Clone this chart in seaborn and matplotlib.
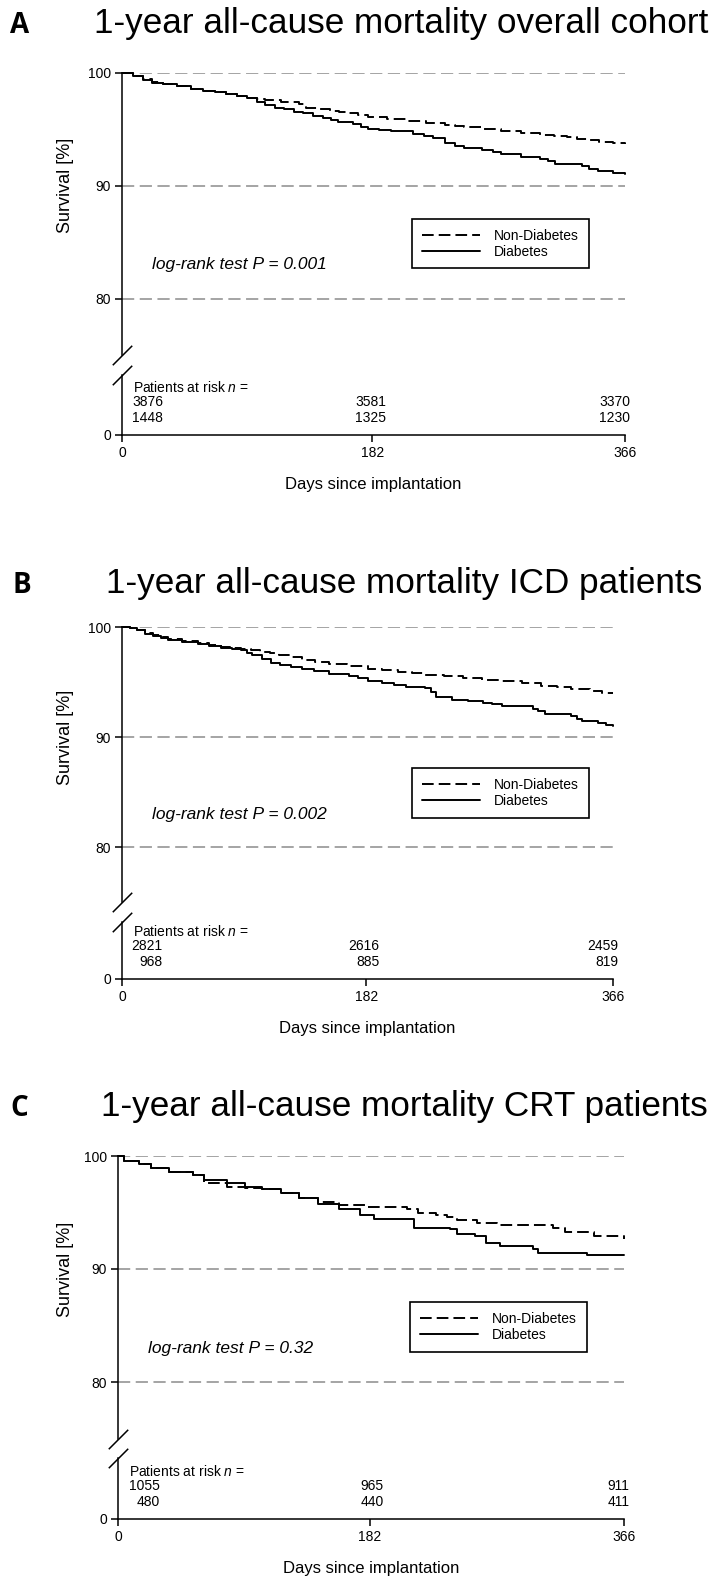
import numpy as np
import pandas as pd
import matplotlib
matplotlib.use("Agg")
import matplotlib.pyplot as plt
from matplotlib.lines import Line2D
import seaborn as sns

# ---------------- data ----------------
titles = ["1-year all-cause mortality overall cohort",
          "1-year all-cause mortality ICD patients",
          "1-year all-cause mortality CRT patients"]
letters = ["A", "B", "C"]
p_values = ["0.001", "0.002", "0.32"]
groups = ["Non-Diabetes", "Diabetes"]
x_ticks = [0, 182, 366]

# Panel A
a_nd_days = [0, 8, 15, 22, 30, 40, 50, 59, 68, 76, 84, 91, 98, 104, 116, 129, 134, 143, 151, 158, 165, 172,
             179, 193, 207, 221, 235, 242, 249, 262, 276, 290, 304, 314, 324, 331, 338, 347, 357, 366]
a_nd_surv = [100, 99.7, 99.4, 99.2, 99.0, 98.8, 98.6, 98.4, 98.25, 98.1, 97.95, 97.8, 97.7, 97.6, 97.4, 97.2,
             96.85, 96.75, 96.6, 96.5, 96.4, 96.25, 96.1, 95.9, 95.7, 95.55, 95.4, 95.3, 95.2, 95.0, 94.8, 94.65,
             94.5, 94.4, 94.3, 94.15, 94.0, 93.85, 93.75, 93.65]
a_d_days = [0, 8, 15, 22, 30, 40, 50, 59, 68, 76, 84, 91, 98, 104, 111, 118, 125, 132, 139, 146, 152, 157, 168,
            174, 179, 187, 196, 212, 220, 226, 235, 242, 249, 262, 270, 276, 290, 304, 310, 315, 335, 340, 346,
            357, 366]
a_d_surv = [100, 99.7, 99.35, 99.1, 99.0, 98.8, 98.6, 98.4, 98.25, 98.1, 97.95, 97.8, 97.4, 97.1, 96.9, 96.75,
            96.55, 96.4, 96.2, 96.0, 95.8, 95.6, 95.45, 95.2, 95.0, 94.9, 94.8, 94.6, 94.4, 94.2, 93.75, 93.5,
            93.3, 93.15, 92.95, 92.8, 92.5, 92.4, 92.15, 91.9, 91.7, 91.5, 91.3, 91.15, 91.0]

# Panel B
b_nd_days = [0, 6, 11, 17, 23, 29, 34, 45, 57, 65, 74, 82, 89, 96, 103, 110, 117, 125, 134, 144, 154, 168, 183,
             194, 206, 216, 226, 240, 254, 268, 283, 298, 312, 324, 335, 349, 358, 366]
b_nd_surv = [100, 99.9, 99.8, 99.5, 99.3, 99.1, 98.9, 98.75, 98.55, 98.35, 98.2, 98.1, 98.0, 97.9, 97.8, 97.65,
             97.5, 97.3, 97.0, 96.85, 96.7, 96.45, 96.2, 96.1, 95.97, 95.85, 95.7, 95.55, 95.4, 95.25, 95.1, 94.9,
             94.7, 94.55, 94.4, 94.2, 94.05, 94.0]
b_d_days = [0, 6, 11, 17, 23, 29, 34, 45, 57, 65, 74, 82, 89, 93, 97, 104, 111, 118, 126, 134, 143, 154, 169,
            176, 183, 194, 203, 212, 226, 230, 234, 246, 258, 269, 276, 283, 306, 310, 315, 335, 339, 343, 355,
            361, 366]
b_d_surv = [100, 99.9, 99.75, 99.4, 99.2, 99.0, 98.85, 98.7, 98.5, 98.3, 98.15, 98.05, 97.9, 97.7, 97.5, 97.1,
            96.8, 96.6, 96.4, 96.25, 96.06, 95.75, 95.6, 95.35, 95.15, 94.9, 94.75, 94.6, 94.45, 94.1, 93.7, 93.4,
            93.3, 93.15, 93.0, 92.85, 92.6, 92.35, 92.1, 91.9, 91.7, 91.5, 91.3, 91.15, 91.0]

# Panel C
c_nd_days = [0, 4, 15, 24, 37, 54, 62, 79, 92, 104, 118, 131, 145, 160, 181, 209, 217, 230, 238, 245, 260, 274,
             315, 323, 344, 366]
c_nd_surv = [100, 99.6, 99.3, 98.9, 98.6, 98.3, 97.6, 97.3, 97.15, 97.05, 96.75, 96.25, 95.9, 95.7, 95.45, 95.3,
             95.0, 94.8, 94.6, 94.3, 94.05, 93.85, 93.6, 93.3, 92.95, 92.65]
c_d_days = [0, 4, 15, 24, 37, 54, 62, 79, 92, 104, 118, 131, 145, 160, 175, 185, 214, 240, 245, 258, 266, 276,
            300, 304, 339, 366]
c_d_surv = [100, 99.6, 99.3, 98.9, 98.6, 98.3, 97.9, 97.6, 97.3, 97.05, 96.75, 96.25, 95.75, 95.3, 94.8, 94.4,
            93.6, 93.5, 93.1, 92.9, 92.3, 92.0, 91.8, 91.4, 91.2, 91.2]

# patients at risk at days 0 / 182 / 366
risk_nd = [[3876, 3581, 3370], [2821, 2616, 2459], [1055, 965, 911]]
risk_d = [[1448, 1325, 1230], [968, 885, 819], [480, 440, 411]]

curves = [((a_nd_days, a_nd_surv), (a_d_days, a_d_surv)),
          ((b_nd_days, b_nd_surv), (b_d_days, b_d_surv)),
          ((c_nd_days, c_nd_surv), (c_d_days, c_d_surv))]

# ---------------- style ----------------
sns.set_style("ticks")
plt.rcParams["font.family"] = ["Liberation Sans", "DejaVu Sans"]
plt.rcParams["mathtext.fontset"] = "custom"
plt.rcParams["mathtext.rm"] = "Liberation Sans"
plt.rcParams["mathtext.it"] = "Liberation Sans:italic"
for key in ["text.color", "axes.labelcolor", "xtick.color", "ytick.color", "axes.edgecolor"]:
    plt.rcParams[key] = "black"

W, H = 709, 1580
fig = plt.figure(figsize=(W / 100, H / 100), dpi=100)


def px_axes(left, right, top, bottom):
    return fig.add_axes([left / W, 1 - bottom / H, (right - left) / W, (bottom - top) / H])


# left, right, top, break_top, break_bottom, bottom, title_baseline, letter_x, title_x
layouts = [
    (122, 625, 72.7, 355, 375, 435, 33, 10, 94),
    (122, 613, 627.3, 902.3, 922, 979, 593, 12, 106),
    (118, 624, 1156, 1438.5, 1458, 1519, 1116, 10, 101),
]

SPINE_LW = 1.1
GRID_COLOR = "#8c8c8c"
risk_cols_day = [30, 192, 370]

for i in range(3):
    left, right, top, btop, bbot, bottom, tbase, lx, tx = layouts[i]
    wpx = right - left

    # titles
    fig.text(lx / W, 1 - tbase / H, letters[i], fontsize=20, fontweight="bold",
             family=["Open Sans", "DejaVu Sans"], va="baseline", ha="left")
    fig.text(tx / W, 1 - tbase / H, titles[i], fontsize=25.3, va="baseline", ha="left")

    # ---- upper axis (survival) ----
    ax = px_axes(left, right, top, btop)
    (nd_d, nd_s), (d_d, d_s) = curves[i]
    df = pd.DataFrame({
        "day": list(nd_d) + list(d_d),
        "surv": list(nd_s) + list(d_s),
        "group": [groups[0]] * len(nd_d) + [groups[1]] * len(d_d),
    })
    sns.lineplot(data=df, x="day", y="surv", hue="group", style="group",
                 palette={groups[0]: "black", groups[1]: "black"},
                 dashes={groups[0]: (6, 2.6), groups[1]: ""},
                 drawstyle="steps-post", estimator=None, sort=False,
                 linewidth=1.4, legend=False, ax=ax)
    for ln in ax.lines:
        ln.set_clip_on(False)
    ax.set_xlim(0, 366)
    ax.set_ylim(75, 100)
    ax.set_yticks([80, 90, 100])
    ax.set_yticklabels(["80", "90", "100"])
    ax.set_xticks([])
    ax.set_xlabel("")
    ax.yaxis.grid(True, color=GRID_COLOR, linestyle=(0, (8, 3.6)), linewidth=1.1)
    ax.set_axisbelow(True)
    for s in ["top", "right", "bottom"]:
        ax.spines[s].set_visible(False)
    ax.spines["left"].set_linewidth(SPINE_LW)
    ax.tick_params(axis="y", direction="out", length=5, width=SPINE_LW, labelsize=10, pad=3)
    ax.set_ylabel("Survival [%]", fontsize=13)
    ax.yaxis.set_label_coords((65 - left) / wpx, (90 - 75) / 25)
    ax.yaxis.label.set_va("center")
    ax.plot([0], [0], transform=ax.transAxes, marker=[(-1, -1), (1, 1)], markersize=14,
            linestyle="none", color="k", mec="k", mew=1.1, clip_on=False)

    ax.text(22, 83, f"log-rank test P = {p_values[i]}", fontsize=12.5, fontstyle="italic",
            va="center", ha="left")

    handles = [Line2D([], [], color="black", lw=1.4, dashes=(6, 2.6)),
               Line2D([], [], color="black", lw=1.4)]
    leg = ax.legend(handles, groups, loc="lower left",
                    bbox_to_anchor=((412 - left) / wpx if i != 2 else (410 - left) / wpx, 0.307),
                    borderaxespad=0, frameon=True, fancybox=False, edgecolor="black",
                    framealpha=1, fontsize=10, handlelength=4.2, handletextpad=1.0,
                    borderpad=0.7, labelspacing=0.15)
    leg.get_frame().set_linewidth(1.2)

    # ---- lower axis (risk table, 0 level) ----
    axl = px_axes(left, right, bbot, bottom)
    hpx = bottom - bbot
    axl.set_xlim(0, 366)
    axl.set_ylim(0, 1)
    axl.set_yticks([0])
    axl.set_yticklabels(["0"])
    axl.set_xticks(x_ticks)
    axl.set_xticklabels([str(t) for t in x_ticks])
    for s in ["top", "right"]:
        axl.spines[s].set_visible(False)
    axl.spines["left"].set_linewidth(SPINE_LW)
    axl.spines["bottom"].set_linewidth(SPINE_LW)
    axl.tick_params(direction="out", length=5, width=SPINE_LW, labelsize=10, pad=3)
    axl.set_xlabel("Days since implantation", fontsize=12)
    axl.xaxis.set_label_coords(0.5, -50 / hpx)
    axl.xaxis.label.set_va("center")
    axl.plot([0], [1], transform=axl.transAxes, marker=[(-1, -1), (1, 1)], markersize=14,
             linestyle="none", color="k", mec="k", mew=1.1, clip_on=False)

    tr = axl.get_xaxis_transform()
    axl.text(8, 48 / hpx, "Patients at risk $n$ =", transform=tr, fontsize=10,
             va="center", ha="left")
    for j, dday in enumerate(risk_cols_day):
        axl.text(dday, 33 / hpx, str(risk_nd[i][j]), transform=tr, fontsize=10,
                 va="center", ha="right")
        axl.text(dday, 17 / hpx, str(risk_d[i][j]), transform=tr, fontsize=10,
                 va="center", ha="right")

fig.savefig("out.png", dpi=100)
